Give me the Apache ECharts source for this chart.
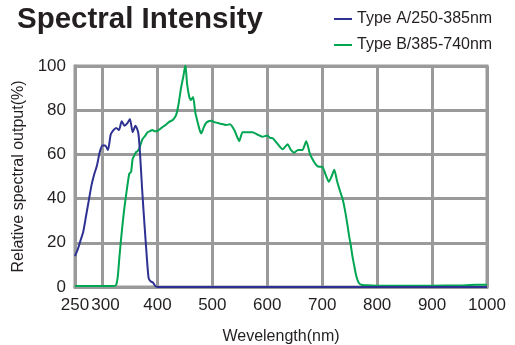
<!DOCTYPE html>
<html>
<head>
<meta charset="utf-8">
<script src="https://cdn.jsdelivr.net/npm/echarts@6/dist/echarts.min.js"></script>
<style>
  html, body { margin: 0; padding: 0; background: #fff; }
  #chart { width: 515px; height: 345px; }
</style>
</head>
<body>
<div id="chart"></div>
<script>
// wavelength (nm) / relative output (%)
const typeAWave = [250, 255, 260, 265, 270, 275, 280, 285, 290, 295, 300, 305, 310, 315, 320, 325, 330, 335, 340, 345, 350, 355, 360, 365, 368, 372, 376, 380, 384, 388, 392, 396, 400, 1000];
const typeAValue = [14, 17, 21, 25, 32, 39, 46, 51, 55, 61, 64, 64, 62, 69, 71, 72, 71, 75, 73, 74, 76, 70, 73, 70, 62, 45, 30, 16, 4, 2.5, 2, 0.5, 0, 0];

const typeBWave = [250, 320, 325, 328, 331, 334, 337, 340, 343, 346, 349, 352, 355, 358, 361, 364, 367, 370, 373, 378, 382, 386, 391, 395, 400, 405, 410, 416, 422, 428, 434, 438, 443, 447, 451, 454, 458, 461, 465, 469, 473, 477, 480, 484, 488, 493, 498, 505, 513, 520, 525, 532, 540, 545, 549, 555, 563, 573, 582, 591, 600, 605, 610, 618, 628, 637, 643, 649, 656, 664, 671, 678, 685, 690, 695, 700, 706, 712, 717, 722, 727, 733, 737, 742, 746, 749, 752, 755, 758, 762, 767, 773, 780, 800, 850, 900, 950, 980, 1000];
const typeBValue = [0.5, 0.5, 1, 5, 14, 22, 29.5, 36, 41.6, 47, 51.4, 52, 58, 59.5, 61, 61.5, 62.7, 65, 67, 68.5, 70, 70.5, 71, 70.5, 70.6, 71.5, 72.5, 73.5, 74.8, 75.6, 77.8, 82, 90, 95, 100.5, 92, 86, 84.6, 86, 79, 74.8, 71, 69.5, 72, 74, 75, 75.2, 74.5, 74, 73.6, 73.3, 73.6, 71, 68, 66, 70, 70, 70, 69, 68, 68.5, 67.5, 67.3, 65, 62.3, 64.6, 62, 60.8, 62, 62, 66, 60, 56.7, 55, 54.4, 54.4, 51, 47.6, 50, 53, 48, 43, 40, 34, 28, 23, 19, 14, 10, 5, 1.7, 0.9, 0.8, 0.6, 0.6, 0.6, 0.7, 1, 1];

const xTicks = [250, 300, 400, 500, 600, 700, 800, 900, 1000];

const pairs = (xs, ys) => xs.map((x, i) => [x, ys[i]]);

const gridGrey = '#9a9a9a';
const ink = '#231f20';
// split lines every 50nm from 250; only the 100nm ones are drawn
const xSplitColors = [];
for (let v = 250; v <= 1000; v += 50) {
  xSplitColors.push(v % 100 === 0 || v === 250 ? gridGrey : 'rgba(0,0,0,0)');
}

const chart = echarts.init(document.getElementById('chart'));
chart.setOption({
  animation: false,
  textStyle: { fontFamily: 'Liberation Sans, Arial, sans-serif' },
  title: {
    text: 'Spectral Intensity',
    left: 12,
    top: 0,
    textStyle: { fontSize: 29.5, fontWeight: 'bold', color: ink, fontFamily: 'Liberation Sans, Arial, sans-serif' }
  },
  legend: {
    orient: 'vertical',
    left: 329,
    top: 6,
    itemWidth: 18,
    itemHeight: 2,
    itemGap: 10,
    icon: 'rect',
    textStyle: { fontSize: 16, color: ink },
    data: ['Type A/250-385nm', 'Type B/385-740nm']
  },
  grid: {
    left: 75,
    right: 28,
    top: 66,
    bottom: 58,
    outerBoundsMode: 'none',
    containLabel: false,
    show: true,
    borderColor: gridGrey,
    borderWidth: 3
  },
  xAxis: {
    type: 'value',
    min: 250,
    max: 1000,
    interval: 50,
    name: 'Wevelength(nm)',
    nameLocation: 'middle',
    nameGap: 42,
    nameTextStyle: { fontSize: 16, color: ink },
    axisLine: { show: true, lineStyle: { color: gridGrey, width: 3 } },
    axisTick: { show: false },
    axisLabel: {
      fontSize: 17,
      color: ink,
      margin: 10,
      formatter: v => {
        if (xTicks.indexOf(v) < 0) return '';
        return v === 300 ? '{s|300}' : String(v);
      },
      rich: { s: { fontSize: 17, color: ink, padding: [0, 0, 0, 6] } }
    },
    splitLine: { show: true, lineStyle: { color: xSplitColors, width: 3 } }
  },
  yAxis: {
    type: 'value',
    min: 0,
    max: 100,
    interval: 20,
    name: 'Relative spectral output(%)',
    nameLocation: 'middle',
    nameGap: 45,
    nameTextStyle: { fontSize: 16, color: ink },
    axisLine: { show: true, lineStyle: { color: gridGrey, width: 3 } },
    axisTick: { show: false },
    axisLabel: { fontSize: 17, color: ink, margin: 9 },
    splitLine: { show: true, lineStyle: { color: gridGrey, width: 3 } }
  },
  series: [
    {
      name: 'Type B/385-740nm',
      type: 'line',
      symbol: 'none',
      smooth: 0.2,
      color: '#00a651',
      lineStyle: { width: 2 },
      data: pairs(typeBWave, typeBValue)
    },
    {
      name: 'Type A/250-385nm',
      type: 'line',
      symbol: 'none',
      smooth: 0.2,
      color: '#2e3192',
      lineStyle: { width: 2 },
      z: 3,
      data: pairs(typeAWave, typeAValue)
    }
  ]
});
</script>
</body>
</html>
